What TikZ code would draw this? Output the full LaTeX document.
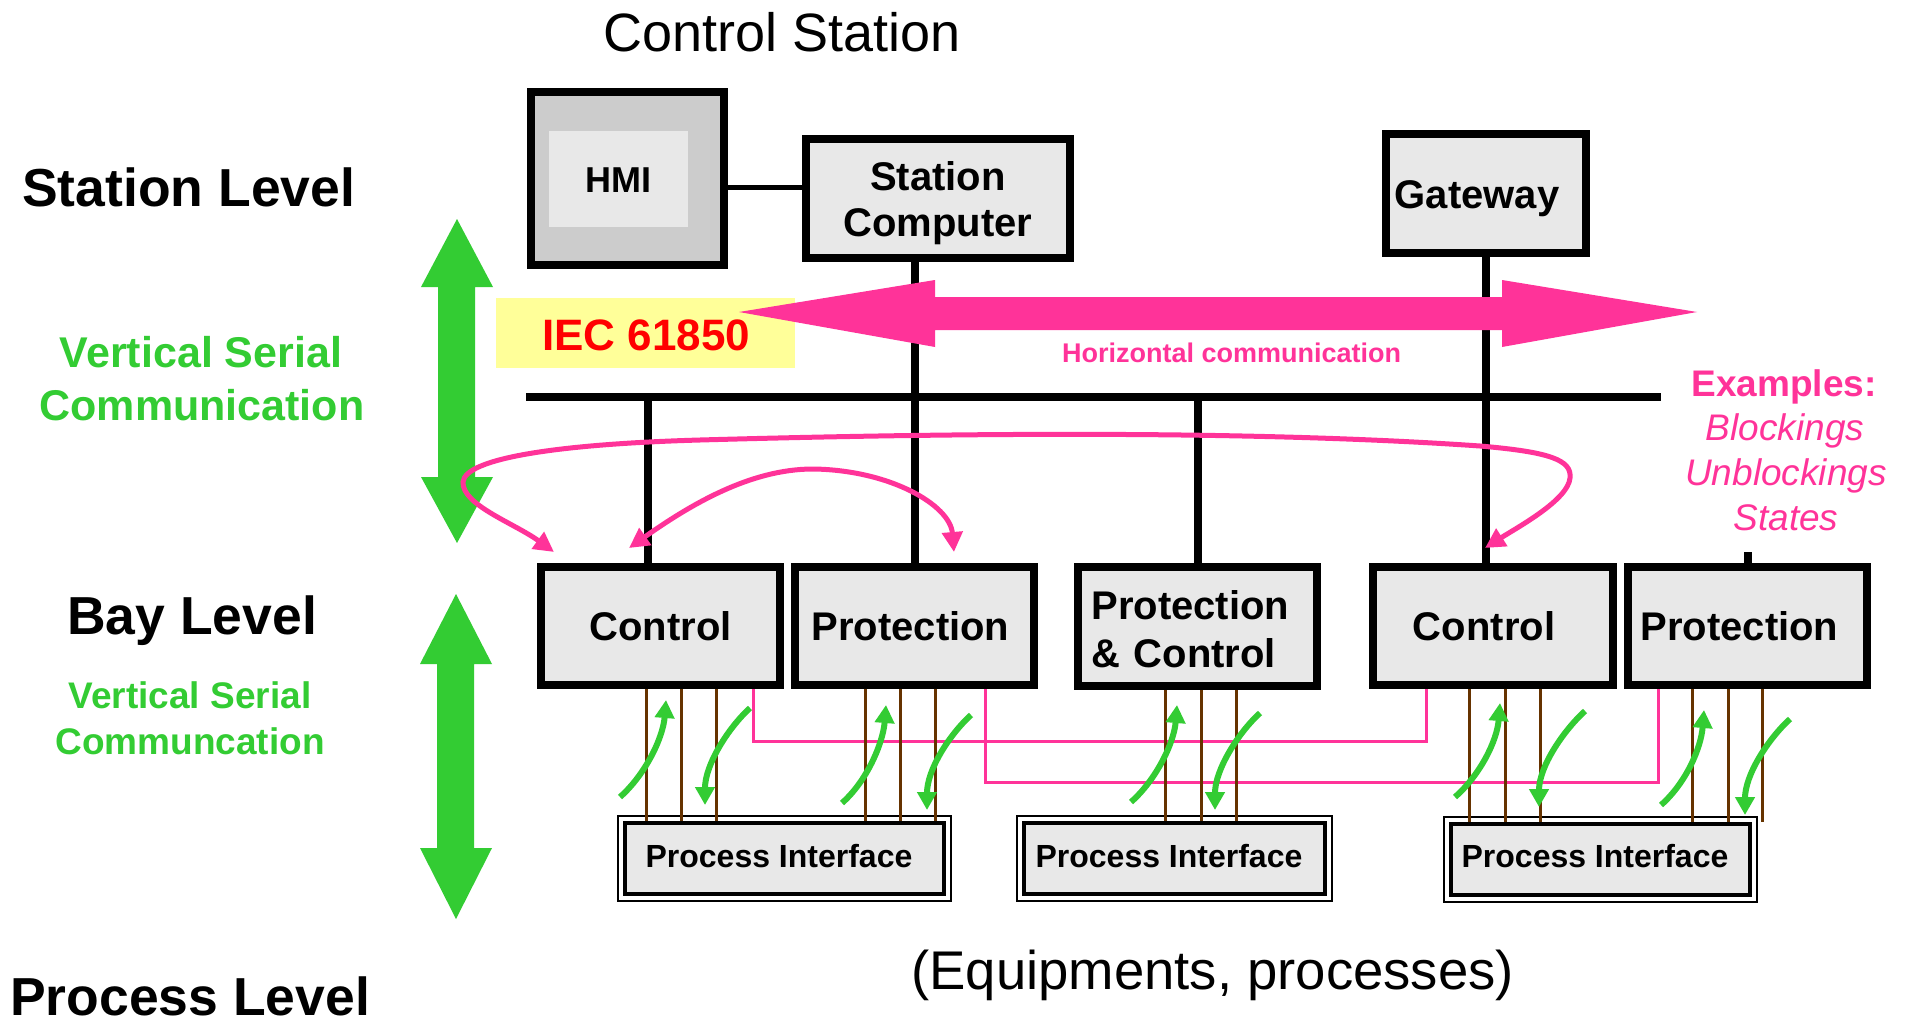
\documentclass[tikz,border=0pt]{standalone}
\usepackage{fontspec}
\setmainfont{Liberation Sans}
\usetikzlibrary{arrows.meta}

\definecolor{pinkc}{HTML}{FF3399}
\definecolor{greenc}{HTML}{33CC33}
\definecolor{yellowc}{HTML}{FFFF99}
\definecolor{boxgray}{HTML}{E8E8E8}
\definecolor{hmigray}{HTML}{CCCCCC}
\definecolor{brownc}{HTML}{663300}
\definecolor{redc}{HTML}{FF0000}

% text followed by a little trailing room, to sit slightly left of centre
\newcommand\leftish[2]{#2\hspace*{#1pt}}

\begin{document}
\begin{tikzpicture}[x=1pt,y=-1pt,
  box/.style={draw=black,line width=8pt,fill=boxgray,inner sep=0pt,
    font=\fontsize{40pt}{46pt}\selectfont\bfseries},
  onebox/.style={box,text height=29pt,text depth=0pt},
  baybox/.style={onebox,minimum width=239pt,minimum height=118pt},
  pibox/.style={draw=black,line width=4pt,fill=boxgray,inner sep=0pt,
    minimum height=71pt,font=\fontsize{32pt}{38pt}\selectfont\bfseries,
    text height=17pt,text depth=0pt},
  wire/.style={line width=8pt,black},
  brw/.style={line width=3pt,brownc},
  pthin/.style={line width=3pt,pinkc},
  pcurve/.style={line width=5pt,pinkc,
    {Triangle[length=20pt,width=20pt]}-{Triangle[length=20pt,width=20pt]}},
  garrow/.style={line width=6pt,greenc,-{Triangle[length=18pt,width=19pt]}},
  lbl/.style={inner sep=0pt,anchor=base west},
  clbl/.style={inner sep=0pt,anchor=base},
  big/.style={font=\fontsize{53.5pt}{60pt}\selectfont\bfseries},
]
% canvas
\fill[white] (0,0) rectangle (1910,1027);
\useasboundingbox (0,0) rectangle (1910,1027);

% yellow band behind the standard name
\fill[yellowc] (496,298) rectangle (795,368);

% station level devices
\node[box,fill=hmigray,minimum width=193pt,minimum height=173pt] (hmi) at (627.5,178.5) {};
\node[fill=boxgray,inner sep=0pt,minimum width=139pt,minimum height=96pt,
  font=\fontsize{36pt}{42pt}\selectfont\bfseries,text height=28pt,text depth=0pt]
  (hmiscreen) at (618.5,179) {HMI};
\node[box,minimum width=264pt,minimum height=119pt,align=center] (sc) at (938,198.5)
  {\rule{0pt}{39pt}Station\\Computer};
\node[onebox,minimum width=200pt,minimum height=119pt] (gw) at (1486,193.5) {\leftish{18}{Gateway}};

% bay level devices
\node[baybox] (ctrlL) at (660.5,626) {Control};
\node[baybox] (protL) at (914.5,626) {\leftish{8}{Protection}};
\node[box,minimum width=239pt,minimum height=119pt,align=left,text width=212pt,
  font=\fontsize{40pt}{48pt}\selectfont\bfseries]
  (pc) at (1197.5,626.5) {\rule{0pt}{35pt}Protection\\\& Control};
\node[baybox,minimum width=240pt] (ctrlR) at (1493,626) {\leftish{18}{Control}};
\node[baybox] (protR) at (1747.5,626) {\leftish{16}{Protection}};

% process interfaces with double frame
\node[pibox,minimum width=319pt] (pi1) at (784.5,858.5) {\leftish{11}{Process Interface}};
\node[pibox,minimum width=301pt] (pi2) at (1174.5,858.5) {\leftish{11}{Process Interface}};
\node[pibox,minimum width=299pt] (pi3) at (1600.5,859) {\leftish{11}{Process Interface}};
\foreach \p in {pi1,pi2,pi3}
  \draw[line width=2pt] ([shift={(-5,-5)}]\p.north west) rectangle ([shift={(5,5)}]\p.south east);

% station bus and drops
\coordinate (busL) at (526,397);
\coordinate (busR) at (1661,397);
\coordinate (hsc) at (760,188);
\draw[wire] (busL) -- (busR);
\draw[line width=5pt] (hmi.east |- hsc) -- (sc.west |- hsc);
\draw[wire] (protL.north |- sc.south) -- (protL.north);
\draw[wire] (gw.south) -- (gw.south |- ctrlR.north);
\draw[wire] (busL -| 648,0) -- (ctrlL.north -| 648,0);
\draw[wire] (pc.north |- busL) -- (pc.north);
\draw[wire] (protR.north) -- ++(0,-11);

% horizontal communication arrow
\fill[pinkc] (739,312) -- (935,280) -- (935,297) -- (1502,297) -- (1502,280) -- (1697,312)
  -- (1502,347) -- (1502,330) -- (935,330) -- (935,347) -- cycle;

% vertical communication arrows
\fill[greenc] (457,219) -- (493,287) -- (475,287) -- (475,477) -- (493,477) -- (457,543)
  -- (421,477) -- (438,477) -- (438,287) -- (421,287) -- cycle;
\fill[greenc] (456,594) -- (492,664) -- (474,664) -- (474,848) -- (492,848) -- (456,919)
  -- (420,848) -- (437,848) -- (437,664) -- (420,664) -- cycle;

% labels
\node[lbl,font=\fontsize{54pt}{60pt}\selectfont] (title) at (603,52) {Control Station};
\node[lbl,big] (stlev) at (22,206) {Station Level};
\node[lbl,big] (baylev) at (67,634) {Bay Level};
\node[lbl,big] (proclev) at (10,1015) {Process Level};
\node[clbl,text=greenc,font=\fontsize{43pt}{50pt}\selectfont\bfseries] (vs1a) at (201,367) {Vertical Serial};
\node[clbl,text=greenc,font=\fontsize{43pt}{50pt}\selectfont\bfseries] (vs1b) at (202,420) {Communication};
\node[clbl,text=greenc,font=\fontsize{37pt}{44pt}\selectfont\bfseries] (vs2a) at (190,708) {Vertical Serial};
\node[clbl,text=greenc,font=\fontsize{37pt}{44pt}\selectfont\bfseries] (vs2b) at (190,754) {Communcation};
\node[lbl,text=redc,font=\fontsize{44pt}{50pt}\selectfont\bfseries] (iec) at (542,350) {IEC 61850};
\node[lbl,text=pinkc,font=\fontsize{27pt}{32pt}\selectfont\bfseries] (hcomm) at (1062,362) {Horizontal communication};
\node[clbl,text=pinkc,font=\fontsize{37pt}{44pt}\selectfont\bfseries] (ex) at (1784,396) {Examples:};
\node[clbl,text=pinkc,font=\fontsize{37pt}{44pt}\selectfont\itshape] (ex1) at (1785,440) {Blockings};
\node[clbl,text=pinkc,font=\fontsize{37pt}{44pt}\selectfont\itshape] (ex2) at (1786,485) {Unblockings};
\node[clbl,text=pinkc,font=\fontsize{37pt}{44pt}\selectfont\itshape] (ex3) at (1786,530) {States};
\node[lbl,font=\fontsize{54.5pt}{60pt}\selectfont] (equip) at (911,989) {(Equipments, processes)};

% thin bay-to-bay links
\coordinate (ph1) at (753,741);
\coordinate (ph2) at (985,782);
\draw[pthin] (ctrlL.south -| ph1) -- (ph1) -| (ctrlR.south -| 1426,0);
\draw[pthin] (protL.south -| ph2) -- (ph2) -| (protR.south -| 1658,0);

% process wiring
\foreach \x in {646,681,716} \draw[brw] (ctrlL.south -| \x,0) -- (pi1.north -| \x,0);
\foreach \x in {865,900,935} \draw[brw] (protL.south -| \x,0) -- (pi1.north -| \x,0);
\foreach \x in {1165,1201,1236} \draw[brw] (pc.south -| \x,0) -- (pi2.north -| \x,0);
\foreach \x in {1469,1505,1540} \draw[brw] (ctrlR.south -| \x,0) -- (pi3.north -| \x,0);
\foreach \x in {1692,1728,1762} \draw[brw] (protR.south -| \x,0) -- (pi3.north -| \x,0);

% bay to process data flow
\foreach \sx/\sy/\tx/\ty in {620/797/666/700, 842/803/886/705, 1131/802/1177/705,
    1455/797/1500/703, 1661/805/1704/710}
  \draw[garrow] (\sx,\sy) .. controls (\sx+25,\sy-22) and (\tx-3,\ty+38) .. (\tx,\ty);
\foreach \sx/\sy/\tx/\ty in {750/708/705/805, 971/715/927/810, 1260/713/1215/810,
    1585/711/1539/807, 1790/719/1745/815}
  \draw[garrow] (\sx,\sy) .. controls (\sx-22,\sy+20) and (\tx,\ty-40) .. (\tx,\ty);

% horizontal exchanges between bays
\draw[pcurve] (554,552) .. controls (514,523) and (462,505) .. (463,482)
  .. controls (465,458) and (560,444) .. (700,440)
  .. controls (950,433) and (1250,430) .. (1480,446)
  .. controls (1550,452) and (1572,460) .. (1570,478)
  .. controls (1568,500) and (1518,527) .. (1485,548);
\draw[pcurve] (629,548) .. controls (690,505) and (750,469) .. (813,469)
  .. controls (890,470) and (950,505) .. (954,552);
\end{tikzpicture}
\end{document}
